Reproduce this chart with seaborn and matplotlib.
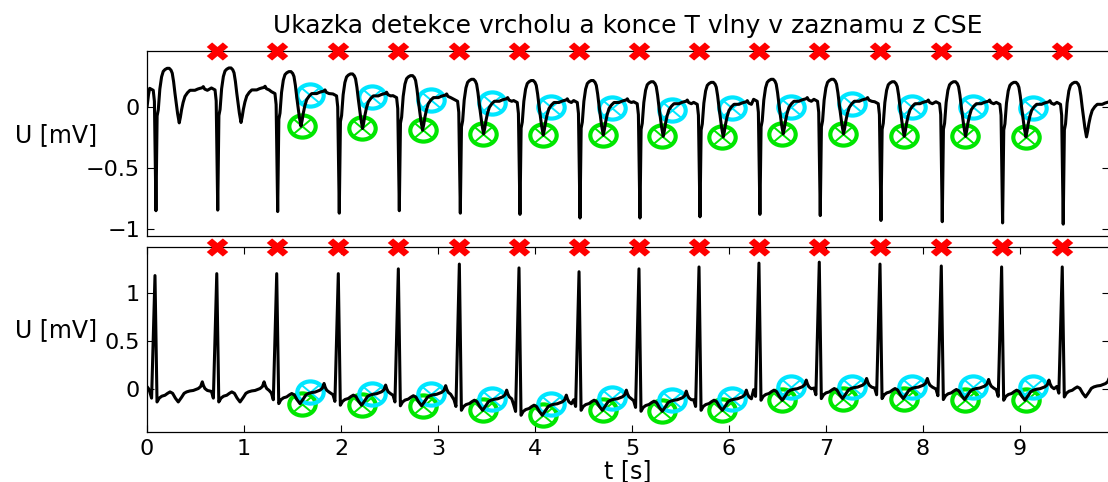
import numpy as np
import seaborn as sns
import matplotlib.pyplot as plt
from matplotlib import ticker
from matplotlib.path import Path
from matplotlib.markers import MarkerStyle

# R-peak times of the 16 beats [s]
r_times = [0.082, 0.719, 1.337, 1.972, 2.591, 3.220, 3.835, 4.454,
           5.072, 5.691, 6.309, 6.931, 7.557, 8.189, 8.811, 9.436]

# upper lead: one beat (time from R peak, mV)
top_dt = [-0.055, -0.018, -0.006, 0.010, 0.022, 0.034, 0.050, 0.068, 0.085,
          0.103, 0.125, 0.147, 0.165, 0.178, 0.192, 0.206, 0.220, 0.233,
          0.250, 0.262, 0.274, 0.290, 0.309, 0.335, 0.361, 0.390, 0.412,
          0.440, 0.464, 0.485, 0.498, 0.512, 0.540]
top_val = [0.126, 0.110, 0.020, np.nan, -0.100, -0.050, 0.120, 0.220, 0.265,
           0.280, 0.290, 0.290, 0.275, 0.250, 0.180, 0.085, 0.000, -0.080,
           -0.157, -0.110, -0.050, 0.010, 0.060, 0.090, 0.110, 0.110, 0.110,
           0.120, 0.126, 0.130, 0.140, 0.120, 0.110]
top_qrs = [-0.85, -0.845, -0.857, -0.87, -0.85, -0.87, -0.88, -0.91,
           -0.91, -0.90, -0.88, -0.89, -0.93, -0.94, -0.95, -0.96]
top_shift = [0.027, 0.030, 0.0, -0.019, -0.033, -0.063, -0.073, -0.073,
             -0.083, -0.088, -0.063, -0.063, -0.083, -0.083, -0.088, -0.088]

# lower lead: one beat
bot_dt = [-0.055, -0.035, 0.0, 0.021, 0.044, 0.070, 0.103, 0.130, 0.155,
          0.182, 0.210, 0.240, 0.275, 0.300, 0.326, 0.360, 0.395, 0.446,
          0.470, 0.488, 0.500, 0.515, 0.540]
bot_val = [-0.030, -0.100, np.nan, -0.140, -0.100, -0.080, -0.070, -0.050,
           -0.035, -0.050, -0.100, -0.140, -0.090, -0.050, -0.035, -0.025,
           -0.020, 0.000, 0.020, 0.070, 0.030, 0.000, -0.020]
bot_r = [1.18, 1.20, 1.20, 1.20, 1.25, 1.30, 1.26, 1.22,
         1.25, 1.27, 1.31, 1.32, 1.30, 1.28, 1.27, 1.27]
bot_shift = [0.0, 0.0, -0.017, -0.034, -0.040, -0.087, -0.139, -0.087,
             -0.097, -0.087, 0.018, 0.035, 0.035, 0.025, 0.018, 0.052]

lead_t = [0.0, 0.015]
lead_top = [0.0, 0.10]
lead_bot = [0.02, 0.0]

# detected T peaks (green) and T ends (cyan)
tp_t = [1.595, 2.220, 2.842, 3.467, 4.086, 4.698, 5.312, 5.931, 6.549,
        7.178, 7.804, 8.433, 9.062]
tp_top = [-0.157, -0.176, -0.19, -0.22, -0.23, -0.23, -0.24, -0.245, -0.22,
          -0.22, -0.24, -0.24, -0.245]
tp_bot = [-0.157, -0.174, -0.18, -0.227, -0.279, -0.227, -0.237, -0.227,
          -0.122, -0.105, -0.105, -0.115, -0.122]
te_t = [1.680, 2.316, 2.925, 3.554, 4.162, 4.791, 5.409, 6.028, 6.639,
        7.265, 7.884, 8.519, 9.137]
te_top = [0.10, 0.08, 0.058, 0.03, 0.0, -0.01, -0.025, -0.01, 0.0,
          0.025, 0.0, 0.0, -0.01]
te_bot = [-0.035, -0.052, -0.06, -0.105, -0.157, -0.098, -0.122, -0.105,
          0.017, 0.017, 0.017, 0.017, 0.017]

# detected QRS (red) - beats 2..16, drawn on the upper frame edge
qrs_t = r_times[1:]
top_ylim = (-1.057, 0.459)
bot_ylim = (-0.454, 1.478)


def build(lead_y, dts, vals, peak, shift):
    t, u = list(lead_t), list(lead_y)
    for k, tr in enumerate(r_times):
        for dt, v in zip(dts, vals):
            t.append(tr + dt)
            u.append(peak[k] if np.isnan(v) else v + shift[k])
    return t, u


t_top, u_top = build(lead_top, top_dt, top_val, top_qrs, top_shift)
t_bot, u_bot = build(lead_bot, bot_dt, bot_val, bot_r, bot_shift)

sns.set_style("ticks", {"xtick.direction": "in", "ytick.direction": "in"})
plt.rcParams["font.family"] = ["DejaVu Sans"]
plt.rcParams["text.color"] = "k"
plt.rcParams["axes.labelcolor"] = "k"

# picture is slightly stretched horizontally -> widen markers
S = 1.19
circ = Path.unit_circle()
ring = Path(circ.vertices * [S, 1.0], circ.codes)
cross = Path([[-0.707 * S, -0.707], [0.707 * S, 0.707],
              [-0.707 * S, 0.707], [0.707 * S, -0.707]],
             [Path.MOVETO, Path.LINETO, Path.MOVETO, Path.LINETO])
xm = MarkerStyle("X")
xp = xm.get_path().transformed(xm.get_transform())
fat_x = Path(xp.vertices * [S, 1.0], xp.codes)

GREEN = "#00e600"
CYAN = "#00e6ff"

fig = plt.figure(figsize=(11.08, 4.82), dpi=100)
ax1 = fig.add_axes([0.1327, 0.5104, 0.8682, 0.3838])
ax2 = fig.add_axes([0.1327, 0.1037, 0.8682, 0.3838])

fmt = ticker.FuncFormatter(lambda v, p: f"{v:g}".replace("-", "\u2212"))

panels = [(ax1, t_top, u_top, tp_top, te_top, top_ylim, [-1, -0.5, 0]),
          (ax2, t_bot, u_bot, tp_bot, te_bot, bot_ylim, [0, 0.5, 1])]

for ax, t, u, tp, te, ylim, yt in panels:
    for xs, ys, col in [(tp_t, tp, GREEN), (te_t, te, CYAN)]:
        ax.plot(xs, ys, ls="none", marker=ring, ms=19, mfc="none",
                mec=col, mew=3.0, zorder=2)
        ax.plot(xs, ys, ls="none", marker=cross, ms=13.4, mec=col,
                mew=1.4, zorder=2)
    sns.lineplot(x=t, y=u, ax=ax, color="k", linewidth=2.2, sort=False,
                 estimator=None, zorder=3)
    ax.plot(qrs_t, [ylim[1]] * len(qrs_t), ls="none", marker=fat_x, ms=15.5,
            mfc="red", mec="none", zorder=5, clip_on=False)
    ax.set_xlim(0, 9.918)
    ax.set_ylim(*ylim)
    ax.set_yticks(yt)
    ax.yaxis.set_major_formatter(fmt)
    ax.tick_params(axis="both", which="both", direction="in", length=5,
                   width=0.8, labelsize=16, pad=5, top=True, right=True,
                   colors="k")
    for sp in ax.spines.values():
        sp.set_visible(True)
        sp.set_linewidth(0.9)
        sp.set_color("k")
    ax.set_ylabel("U [mV]", fontsize=17, rotation=0, ha="center",
                  va="center")
    ax.set_xlabel("")

ax1.yaxis.set_label_coords(-0.0946, 0.546)
ax2.yaxis.set_label_coords(-0.0946, 0.551)

ax1.set_xticks([])
ax1.tick_params(axis="x", top=False, bottom=False)
ax2.set_xticks(range(10))
ax2.set_xlabel("t [s]", fontsize=17, labelpad=0)
ax1.set_title("Ukazka detekce vrcholu a konce T vlny v zaznamu z CSE",
              fontsize=18, pad=13)

plt.savefig("out.png", dpi=100)
plt.close()
